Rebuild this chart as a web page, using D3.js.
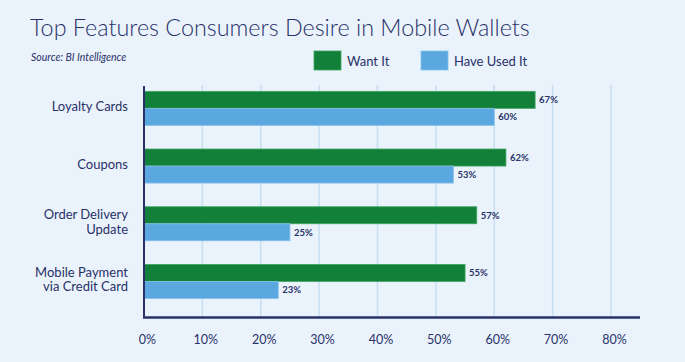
<!DOCTYPE html>
<html>
<head>
<meta charset="utf-8">
<script src="https://cdn.jsdelivr.net/npm/d3@7"></script>
<style>
  body { margin: 0; background: #eaf3fb; }
  svg { display: block; font-family: Lato, "Open Sans", sans-serif; }
</style>
</head>
<body>
<script>
var categories = [["Loyalty Cards"], ["Coupons"], ["Order Delivery", "Update"], ["Mobile Payment", "via Credit Card"]];
var wantIt = [67, 62, 57, 55];
var haveUsedIt = [60, 53, 25, 23];
var seriesNames = ["Want It", "Have Used It"];
var xTicks = [0, 10, 20, 30, 40, 50, 60, 70, 80];

var colors = { "Want It": "#13803a", "Have Used It": "#5ba8e0" };
var navy = "#283168";

var width = 685, height = 362;

var svg = d3.select("body").append("svg")
    .attr("width", width)
    .attr("height", height);

svg.append("rect").attr("width", width).attr("height", height).attr("fill", "#eaf3fb");

// title + source
var title = svg.append("text")
    .attr("x", 30).attr("y", 36)
    .attr("fill", navy)
    .attr("font-weight", 300)
    .attr("font-size", 24)
    .text("Top Features Consumers Desire in Mobile Wallets");
// fit the title to the width it takes in the picture
var tw = title.node().getComputedTextLength();
title.attr("font-size", 24 * 500 / tw);

svg.append("text")
    .attr("x", 31).attr("y", 61)
    .attr("fill", navy)
    .attr("font-size", 10.5)
    .attr("font-style", "italic")
    .text("Source: BI Intelligence");

// scales
var x = d3.scaleLinear().domain([0, 80]).range([144, 611]);
var keys = categories.map(function(d) { return d.join(" "); });
var y = d3.scaleBand().domain(keys).range([79.5, 310.3]).paddingInner(0.41).paddingOuter(0.205);
var ySub = d3.scaleBand().domain(seriesNames).range([0, y.bandwidth()]);

// grid
svg.append("g").selectAll("line")
    .data(xTicks.slice(1))
    .enter().append("line")
    .attr("x1", function(d) { return x(d); })
    .attr("x2", function(d) { return x(d); })
    .attr("y1", 85).attr("y2", 317)
    .attr("stroke", "#c6def3")
    .attr("stroke-width", 1.5);

// data table
var rows = keys.map(function(k, i) {
    return { key: k, lines: categories[i], values: [
        { name: "Want It", value: wantIt[i] },
        { name: "Have Used It", value: haveUsedIt[i] }
    ] };
});

var groups = svg.append("g").selectAll("g")
    .data(rows)
    .enter().append("g")
    .attr("transform", function(d) { return "translate(0," + y(d.key) + ")"; });

groups.selectAll("rect")
    .data(function(d) { return d.values; })
    .enter().append("rect")
    .attr("x", x(0))
    .attr("y", function(d) { return ySub(d.name); })
    .attr("width", function(d) { return x(d.value) - x(0); })
    .attr("height", ySub.bandwidth())
    .attr("fill", function(d) { return colors[d.name]; })
    .attr("stroke", function(d) { return d.name === "Want It" ? "#3fa560" : "#86c0ea"; })
    .attr("stroke-width", 0.8);

groups.selectAll(".val")
    .data(function(d) { return d.values; })
    .enter().append("text")
    .attr("class", "val")
    .attr("x", function(d) { return x(d.value) + 4; })
    .attr("y", function(d) { return ySub(d.name) + ySub.bandwidth() / 2; })
    .attr("dy", "0.35em")
    .attr("fill", navy)
    .attr("font-size", 9.5)
    .attr("font-weight", 700)
    .text(function(d) { return d.value + "%"; });

// category labels
groups.append("text")
    .attr("text-anchor", "end")
    .attr("fill", navy)
    .attr("font-size", 13)
    .selectAll("tspan")
    .data(function(d) { return d.lines.map(function(l, j) { return { t: l, j: j, n: d.lines.length }; }); })
    .enter().append("tspan")
    .attr("x", 128)
    .attr("y", function(d) { return y.bandwidth() / 2 - 2 + (d.j - (d.n - 1) / 2) * 15; })
    .attr("dy", "0.35em")
    .text(function(d) { return d.t; });

// axes lines
svg.append("line")
    .attr("x1", x(0)).attr("x2", x(0))
    .attr("y1", 86).attr("y2", 318)
    .attr("stroke", navy).attr("stroke-width", 2);
svg.append("line")
    .attr("x1", x(0) - 1).attr("x2", 640)
    .attr("y1", 317.5).attr("y2", 317.5)
    .attr("stroke", navy).attr("stroke-width", 2.5);

// x tick labels
var xAxis = d3.axisBottom(x).tickValues(xTicks).tickSize(0).tickFormat(function(d) { return d + "%"; });
var gx = svg.append("g")
    .attr("transform", "translate(3,332)")
    .call(xAxis);
gx.select(".domain").remove();
gx.selectAll("text")
    .attr("fill", navy)
    .attr("font-size", 12.5)
    .attr("font-family", "Lato, sans-serif");

// legend
var legendX = [314, 421];
var legend = svg.append("g").selectAll("g")
    .data(seriesNames)
    .enter().append("g")
    .attr("transform", function(d, i) { return "translate(" + legendX[i] + ",51)"; });
legend.append("rect")
    .attr("width", 27).attr("height", 19)
    .attr("fill", function(d) { return colors[d]; })
    .attr("stroke", function(d, i) { return i === 0 ? "#3fa560" : "#86c0ea"; })
    .attr("stroke-width", 0.8);
legend.append("text")
    .attr("x", 33).attr("y", 10).attr("dy", "0.35em")
    .attr("fill", navy)
    .attr("font-size", 13)
    .text(function(d) { return d; });
</script>
</body>
</html>
